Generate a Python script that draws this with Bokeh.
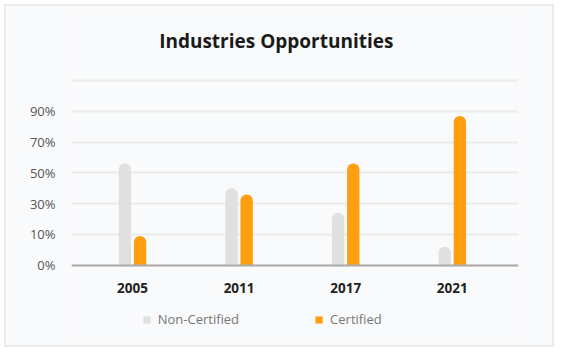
from bokeh.plotting import figure
from bokeh.models import (ColumnDataSource, Range1d, FixedTicker, Legend, LegendItem, Label)
from bokeh.transform import dodge
from bokeh.embed import file_html
from bokeh.resources import INLINE

# ---- data ----
years = ["2005", "2011", "2017", "2021"]
# values in axis units (one gridline = 20 units)
non_certified = [66, 50, 34, 12]
certified = [19, 46, 66, 97]
y_ticks = [0, 20, 40, 60, 80, 100, 120]
y_tick_labels = ["0%", "10%", "30%", "50%", "70%", "90%", ""]
title_text = "Industries Opportunities"
series_names = ["Non-Certified", "Certified"]

xs = list(range(len(years)))
src = ColumnDataSource(dict(x=xs, nc=non_certified, c=certified))

FONT = "Open Sans"
CARD = "#f9fafb"

# frame covers the whole card area; the value axis spans 0..120, extra room above/below
p = figure(width=550, height=343, output_backend="svg", toolbar_location=None,
           x_range=Range1d(-0.572, 3.621), y_range=Range1d(-50.9, 165.5),
           min_border_left=65, min_border_right=38, min_border_top=4, min_border_bottom=6,
           background_fill_color=CARD, border_fill_color=CARD, outline_line_color=None)
p.margin = (4, 0, 0, 4)
p.styles = {"border": "2px solid #ebebeb"}

w = 0.116
r_nc = p.vbar(x=dodge("x", -0.071, range=p.x_range), top="nc", width=w, source=src,
              fill_color="#e0e0e0", line_color=None, border_radius=(6, 6, 0, 0))
r_c = p.vbar(x=dodge("x", 0.071, range=p.x_range), top="c", width=w, source=src,
             fill_color="#ff9f10", line_color=None, border_radius=(6, 6, 0, 0))

# title
p.add_layout(Label(x=1.349, y=146, text=title_text, text_align="center",
                   text_baseline="alphabetic", text_font=FONT, text_font_size="19px",
                   text_font_style="bold", text_color="#1a1a1a"))

# axes
p.xaxis.fixed_location = 0
p.xaxis.ticker = FixedTicker(ticks=xs)
p.xaxis.major_label_overrides = {i: y for i, y in enumerate(years)}
p.xaxis.axis_line_color = "#ababab"
p.xaxis.axis_line_width = 2
p.xaxis.major_tick_line_color = None
p.xaxis.minor_tick_line_color = None
p.xaxis.major_label_text_font = FONT
p.xaxis.major_label_text_font_size = "13.5px"
p.xaxis.major_label_text_font_style = "bold"
p.xaxis.major_label_text_color = "#222222"
p.xaxis.major_label_standoff = 12

p.yaxis.ticker = FixedTicker(ticks=y_ticks)
p.yaxis.major_label_overrides = {t: l for t, l in zip(y_ticks, y_tick_labels)}
p.yaxis.axis_line_color = None
p.yaxis.major_tick_line_color = None
p.yaxis.minor_tick_line_color = None
p.yaxis.major_label_text_font = FONT
p.yaxis.major_label_text_font_size = "13px"
p.yaxis.major_label_text_color = "#555555"
p.yaxis.major_label_standoff = 10

p.xgrid.grid_line_color = None
p.ygrid.grid_line_color = "#ebebeb"
p.ygrid.grid_line_width = 2

legend = Legend(items=[LegendItem(label=series_names[0], renderers=[r_nc]),
                       LegendItem(label=series_names[1], renderers=[r_c])],
                orientation="horizontal", location=(70.7, 15),
                glyph_width=9, glyph_height=9, label_height=14, label_standoff=7,
                spacing=75, padding=0, margin=0,
                background_fill_alpha=0, border_line_color=None,
                label_text_font=FONT, label_text_font_size="13px",
                label_text_color="#777777")
p.add_layout(legend, "center")

open("out.html", "w").write(file_html(p, INLINE))
